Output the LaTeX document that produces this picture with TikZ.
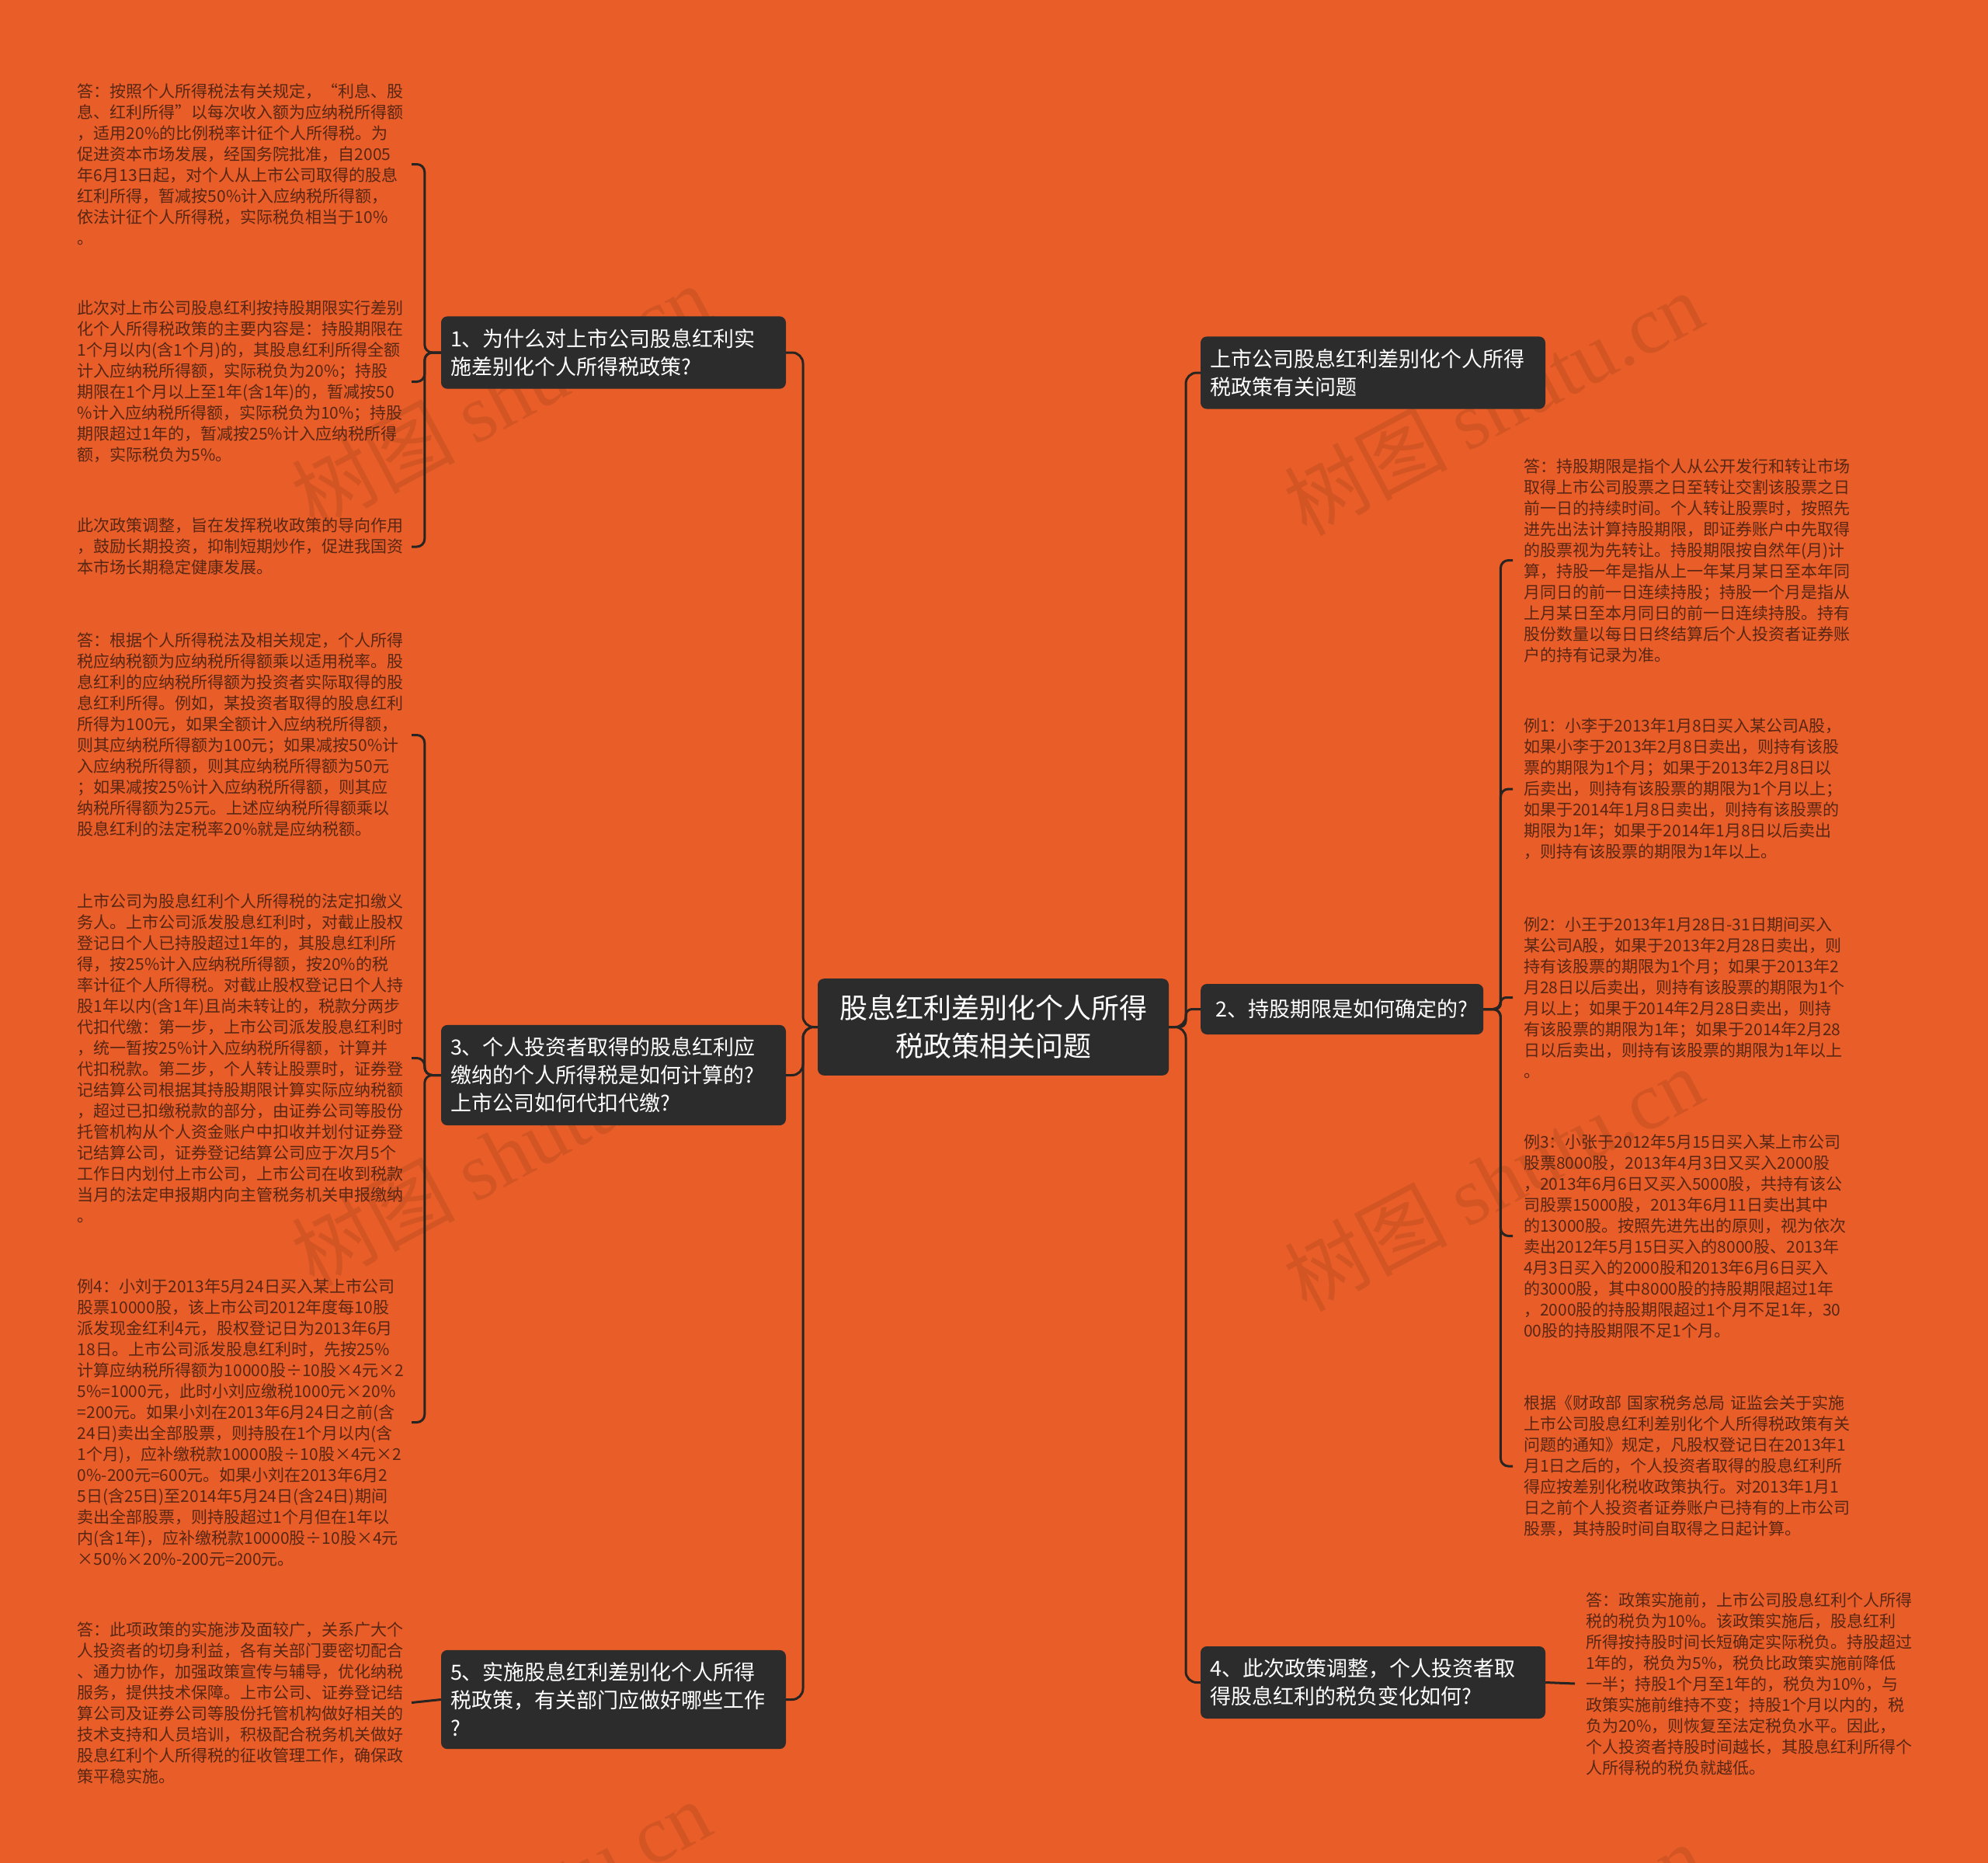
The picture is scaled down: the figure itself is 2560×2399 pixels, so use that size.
\documentclass[tikz,border=0pt]{standalone}
\usepackage{fontspec}
\setmainfont{Noto Sans CJK SC}
\newfontfamily\wmlatin{Liberation Serif}
\begin{document}
\begin{tikzpicture}[x=1pt,y=-1pt,
  topic/.style={rectangle, rounded corners=8pt, fill=boxfill, text=white, inner xsep=12pt, inner ysep=16pt, align=left, font=\fontsize{27}{36}\selectfont},
  wide/.style={text width=420pt},
  leaf/.style={inner xsep=0pt, inner ysep=0pt, align=left, text width=430pt, text=leaftext, font=\fontsize{21}{27}\selectfont},
  rleaf/.style={leaf, inner xsep=14pt},
  link/.style={draw=linkcol, line width=3pt, rounded corners=14pt},
  wmark/.style={rotate=28, text=black, opacity=0.09, font=\fontsize{105}{105}\selectfont}]
%Define all colors here.
\definecolor{bgorange}{RGB}{233,94,40}
\definecolor{boxfill}{RGB}{44,44,44}
\definecolor{linkcol}{RGB}{40,36,34}
\definecolor{leaftext}{RGB}{88,38,20}

\useasboundingbox (0,0) rectangle (2560,2399);
\fill[bgorange] (0,0) rectangle (2560,2399);

%watermarks
\node(wm1) at (645,510) [wmark] {树图 {\wmlatin shutu.cn}};
\node(wm2) at (1923,519) [wmark] {树图 {\wmlatin shutu.cn}};
\node(wm3) at (645,1486) [wmark] {树图 {\wmlatin shutu.cn}};
\node(wm4) at (1923,1518) [wmark] {树图 {\wmlatin shutu.cn}};
\node(wm5) at (645,2462) [wmark] {树图 {\wmlatin shutu.cn}};
\node(wm6) at (1923,2517) [wmark] {树图 {\wmlatin shutu.cn}};

%main topics
\node(ctr) at (1279,1322.5) [topic, align=center, text width=396pt, inner xsep=28pt, inner ysep=21pt, font=\fontsize{36}{49}\selectfont] {股息红利差别化个人所得\\税政策相关问题};

\node(q1) at (790,454) [topic, wide] {1、为什么对上市公司股息红利实\\施差别化个人所得税政策?};
\node(q3) at (790,1384.5) [topic, wide] {3、个人投资者取得的股息红利应\\缴纳的个人所得税是如何计算的?\\上市公司如何代扣代缴?};
\node(q5) at (790,2188.5) [topic, wide] {5、实施股息红利差别化个人所得\\税政策，有关部门应做好哪些工作\\?};

\node(r0) at (1768,480) [topic, wide] {上市公司股息红利差别化个人所得\\税政策有关问题};
\node(q2) at (1546,1299.5) [topic, anchor=west, minimum width=364pt, minimum height=65pt] {2、持股期限是如何确定的?};
\node(q4) at (1768,2166.5) [topic, wide] {4、此次政策调整，个人投资者取\\得股息红利的税负变化如何?};

%left leaves
\node(a1) at (530,211.5) [leaf, anchor=east] {答：按照个人所得税法有关规定，“利息、股\\息、红利所得”以每次收入额为应纳税所得额\\，适用20\%的比例税率计征个人所得税。为\\促进资本市场发展，经国务院批准，自2005\\年6月13日起，对个人从上市公司取得的股息\\红利所得，暂减按50\%计入应纳税所得额，\\依法计征个人所得税，实际税负相当于10\%\\。};
\node(a2) at (530,491.5) [leaf, anchor=east] {此次对上市公司股息红利按持股期限实行差别\\化个人所得税政策的主要内容是：持股期限在\\1个月以内(含1个月)的，其股息红利所得全额\\计入应纳税所得额，实际税负为20\%；持股\\期限在1个月以上至1年(含1年)的，暂减按50\\\%计入应纳税所得额，实际税负为10\%；持股\\期限超过1年的，暂减按25\%计入应纳税所得\\额，实际税负为5\%。};
\node(a3) at (530,704) [leaf, anchor=east] {此次政策调整，旨在发挥税收政策的导向作用\\，鼓励长期投资，抑制短期炒作，促进我国资\\本市场长期稳定健康发展。};

\node(b1) at (530,946.5) [leaf, anchor=east] {答：根据个人所得税法及相关规定，个人所得\\税应纳税额为应纳税所得额乘以适用税率。股\\息红利的应纳税所得额为投资者实际取得的股\\息红利所得。例如，某投资者取得的股息红利\\所得为100元，如果全额计入应纳税所得额，\\则其应纳税所得额为100元；如果减按50\%计\\入应纳税所得额，则其应纳税所得额为50元\\；如果减按25\%计入应纳税所得额，则其应\\纳税所得额为25元。上述应纳税所得额乘以\\股息红利的法定税率20\%就是应纳税额。};
\node(b2) at (530,1362.5) [leaf, anchor=east] {上市公司为股息红利个人所得税的法定扣缴义\\务人。上市公司派发股息红利时，对截止股权\\登记日个人已持股超过1年的，其股息红利所\\得，按25\%计入应纳税所得额，按20\%的税\\率计征个人所得税。对截止股权登记日个人持\\股1年以内(含1年)且尚未转让的，税款分两步\\代扣代缴：第一步，上市公司派发股息红利时\\，统一暂按25\%计入应纳税所得额，计算并\\代扣税款。第二步，个人转让股票时，证券登\\记结算公司根据其持股期限计算实际应纳税额\\，超过已扣缴税款的部分，由证券公司等股份\\托管机构从个人资金账户中扣收并划付证券登\\记结算公司，证券登记结算公司应于次月5个\\工作日内划付上市公司，上市公司在收到税款\\当月的法定申报期内向主管税务机关申报缴纳\\。};
\node(b3) at (530,1831.5) [leaf, anchor=east] {例4：小刘于2013年5月24日买入某上市公司\\股票10000股，该上市公司2012年度每10股\\派发现金红利4元，股权登记日为2013年6月\\18日。上市公司派发股息红利时，先按25\%\\计算应纳税所得额为10000股÷10股×4元×2\\5\%=1000元，此时小刘应缴税1000元×20\%\\=200元。如果小刘在2013年6月24日之前(含\\24日)卖出全部股票，则持股在1个月以内(含\\1个月)，应补缴税款10000股÷10股×4元×2\\0\%-200元=600元。如果小刘在2013年6月2\\5日(含25日)至2014年5月24日(含24日)期间\\卖出全部股票，则持股超过1个月但在1年以\\内(含1年)，应补缴税款10000股÷10股×4元\\×50\%×20\%-200元=200元。};

\node(c1) at (530,2192.5) [leaf, anchor=east] {答：此项政策的实施涉及面较广，关系广大个\\人投资者的切身利益，各有关部门要密切配合\\、通力协作，加强政策宣传与辅导，优化纳税\\服务，提供技术保障。上市公司、证券登记结\\算公司及证券公司等股份托管机构做好相关的\\技术支持和人员培训，积极配合税务机关做好\\股息红利个人所得税的征收管理工作，确保政\\策平稳实施。};

%right leaves
\node(d1) at (1948,721.5) [rleaf, anchor=west] {答：持股期限是指个人从公开发行和转让市场\\取得上市公司股票之日至转让交割该股票之日\\前一日的持续时间。个人转让股票时，按照先\\进先出法计算持股期限，即证券账户中先取得\\的股票视为先转让。持股期限按自然年(月)计\\算，持股一年是指从上一年某月某日至本年同\\月同日的前一日连续持股；持股一个月是指从\\上月某日至本月同日的前一日连续持股。持有\\股份数量以每日日终结算后个人投资者证券账\\户的持有记录为准。};
\node(d2) at (1948,1016) [rleaf, anchor=west] {例1：小李于2013年1月8日买入某公司A股，\\如果小李于2013年2月8日卖出，则持有该股\\票的期限为1个月；如果于2013年2月8日以\\后卖出，则持有该股票的期限为1个月以上；\\如果于2014年1月8日卖出，则持有该股票的\\期限为1年；如果于2014年1月8日以后卖出\\，则持有该股票的期限为1年以上。};
\node(d3) at (1948,1284.5) [rleaf, anchor=west] {例2：小王于2013年1月28日-31日期间买入\\某公司A股，如果于2013年2月28日卖出，则\\持有该股票的期限为1个月；如果于2013年2\\月28日以后卖出，则持有该股票的期限为1个\\月以上；如果于2014年2月28日卖出，则持\\有该股票的期限为1年；如果于2014年2月28\\日以后卖出，则持有该股票的期限为1年以上\\。};
\node(d4) at (1948,1591.5) [rleaf, anchor=west] {例3：小张于2012年5月15日买入某上市公司\\股票8000股，2013年4月3日又买入2000股\\，2013年6月6日又买入5000股，共持有该公\\司股票15000股，2013年6月11日卖出其中\\的13000股。按照先进先出的原则，视为依次\\卖出2012年5月15日买入的8000股、2013年\\4月3日买入的2000股和2013年6月6日买入\\的3000股，其中8000股的持股期限超过1年\\，2000股的持股期限超过1个月不足1年，30\\00股的持股期限不足1个月。};
\node(d5) at (1948,1888) [rleaf, anchor=west] {根据《财政部~国家税务总局~证监会关于实施\\上市公司股息红利差别化个人所得税政策有关\\问题的通知》规定，凡股权登记日在2013年1\\月1日之后的，个人投资者取得的股息红利所\\得应按差别化税收政策执行。对2013年1月1\\日之前个人投资者证券账户已持有的上市公司\\股票，其持股时间自取得之日起计算。};

\node(e1) at (2028,2168) [rleaf, anchor=west] {答：政策实施前，上市公司股息红利个人所得\\税的税负为10\%。该政策实施后，股息红利\\所得按持股时间长短确定实际税负。持股超过\\1年的，税负为5\%，税负比政策实施前降低\\一半；持股1个月至1年的，税负为10\%，与\\政策实施前维持不变；持股1个月以内的，税\\负为20\%，则恢复至法定税负水平。因此，\\个人投资者持股时间越长，其股息红利所得个\\人所得税的税负就越低。};

%connectors
\coordinate(lhub) at (1034,1322.5);
\coordinate(rhub) at (1527,1322.5);

\draw[link] (ctr.west) -- (lhub) |- (q1.east);
\draw[link] (ctr.west) -- (lhub) |- (q3.east);
\draw[link] (ctr.west) -- (lhub) |- (q5.east);
\draw[link] (ctr.east) -- (rhub) |- (r0.west);
\draw[link, rounded corners=8pt] (ctr.east) -- (rhub) |- (q2.west);
\draw[link] (ctr.east) -- (rhub) |- (q4.west);

\draw[link, rounded corners=10pt] (q1.west) -- ++(-21,0) |- (a1.east);
\draw[link, rounded corners=10pt] (q1.west) -- ++(-21,0) |- (a2.east);
\draw[link, rounded corners=10pt] (q1.west) -- ++(-21,0) |- (a3.east);

\draw[link, rounded corners=10pt] (q3.west) -- ++(-21,0) |- (b1.east);
\draw[link, rounded corners=10pt] (q3.west) -- ++(-21,0) |- (b2.east);
\draw[link, rounded corners=10pt] (q3.west) -- ++(-21,0) |- (b3.east);

\draw[link] (q5.west) -- (c1.east);

\draw[link, rounded corners=10pt] (q2.east) -- ++(22,0) |- (d1.west);
\draw[link, rounded corners=10pt] (q2.east) -- ++(22,0) |- (d2.west);
\draw[link, rounded corners=7pt] (q2.east) -- ++(22,0) |- (d3.west);
\draw[link, rounded corners=10pt] (q2.east) -- ++(22,0) |- (d4.west);
\draw[link, rounded corners=10pt] (q2.east) -- ++(22,0) |- (d5.west);

\draw[link] (q4.east) -- (e1.west);
\end{tikzpicture}
\end{document}
